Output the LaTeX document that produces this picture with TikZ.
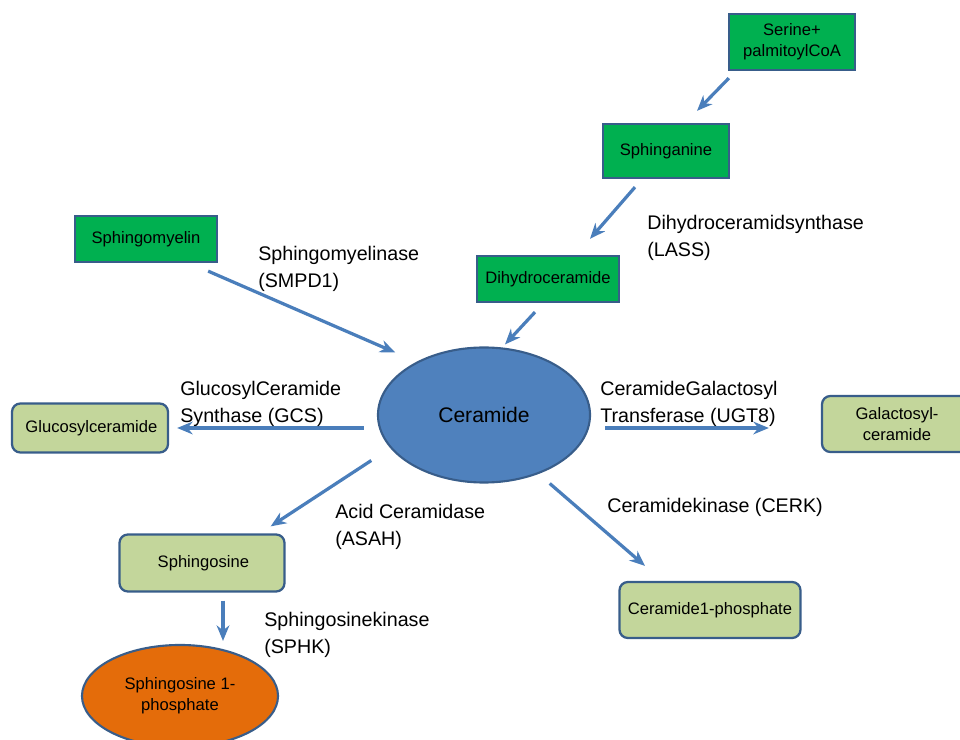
\documentclass[tikz,border=0pt]{standalone}
\usepackage{fontspec}
\setmainfont{Liberation Sans}
\usetikzlibrary{arrows.meta,calc,shapes.geometric}
\definecolor{lipidgreen}{RGB}{0,176,80}
\definecolor{palegreen}{RGB}{195,214,155}
\definecolor{cerblue}{RGB}{79,129,189}
\definecolor{edgeblue}{RGB}{56,93,138}
\definecolor{arrowblue}{RGB}{74,126,187}
\definecolor{sporange}{RGB}{228,108,10}

\begin{document}
\begin{tikzpicture}[x=0.025cm,y=-0.025cm,
  darkbox/.style={draw=edgeblue,line width=1.6pt,fill=lipidgreen,align=center,inner sep=1pt,font=\fontsize{11.8}{15}\selectfont},
  palebox/.style={draw=edgeblue,line width=1.6pt,fill=palegreen,rounded corners=6pt,align=center,inner sep=1pt,font=\fontsize{11.8}{15}\selectfont},
  blob/.style={ellipse,draw=edgeblue,line width=1.5pt,inner sep=0pt,align=center},
  flow/.style={draw=arrowblue,line width=2.3pt,-{Stealth[length=11pt,width=9pt,inset=3.5pt]}},
  enzyme/.style={anchor=north west,inner sep=0pt,align=left,font=\fontsize{14}{19.2}\selectfont}]

\clip (0,0) rectangle (960,740);

\node[darkbox,minimum width=3.15cm,minimum height=1.4cm] (serine) at (792,42) {Serine+\\palmitoylCoA};
\node[darkbox,minimum width=3.15cm,minimum height=1.35cm] (sphinganine) at (666,151) {Sphinganine};
\node[darkbox,minimum width=3.55cm,minimum height=1.15cm] (dihydro) at (548,279) {Dihydroceramide};
\node[darkbox,minimum width=3.55cm,minimum height=1.15cm] (sphingomyelin) at (146,239) {Sphingomyelin};

\node[blob,fill=cerblue,minimum width=5.3cm,minimum height=3.375cm,font=\fontsize{15}{18}\selectfont] (ceramide) at (484,415) {Ceramide};

\node[palebox,minimum width=3.9cm,minimum height=1.225cm] (glucosyl) at (90,428) {\,Glucosylceramide};
\node[palebox,minimum width=3.75cm,minimum height=1.4cm] (galactosyl) at (897,424) {Galactosyl-\\ceramide};
\node[palebox,minimum width=4.125cm,minimum height=1.425cm] (sphingosine) at (202,563) {\,Sphingosine};
\node[palebox,minimum width=4.525cm,minimum height=1.4cm] (cerphos) at (710,610) {Ceramide1-phosphate};

\node[blob,fill=sporange,minimum width=4.9cm,minimum height=2.55cm,font=\fontsize{11.8}{15}\selectfont] (sphingosinep) at (180,696) {Sphingosine 1-\\phosphate};

\draw[flow] ($(serine.south west)+(1,7)$) -- ($(sphinganine.north)+(31,-12)$);
\draw[flow] ($(sphinganine.south)+(-31,8)$) -- ($(dihydro.north)+(42,-16)$);
\draw[flow] ($(dihydro.south)+(-13,9)$) -- ($(ceramide.north)+(21,-2)$);
\draw[flow] ($(sphingomyelin.south east)+(-10,8)$) -- ($(ceramide.north west)+(-13,-14)$);
\draw[flow] ($(ceramide.west)+(-13,13)$) -- ($(glucosyl.east)+(8,0)$);
\draw[flow] ($(ceramide.east)+(14,13)$) -- ($(galactosyl.west)+(-52,4)$);
\draw[flow] ($(ceramide.south west)+(-37,-3)$) -- ($(sphingosine.north east)+(-15,-7)$);
\draw[flow] ($(ceramide.south east)+(-10,20)$) -- ($(cerphos.north)+(-65,-15)$);
\draw[flow] ($(sphingosine.south)+(21,8)$) -- ($(sphingosinep.north)+(43,-3)$);

\node[enzyme] (smpd) at (258,245.6) {Sphingomyelinase\\(SMPD1)};
\node[enzyme] (lass) at (647,214.6) {Dihydroceramidsynthase\\(LASS)};
\node[enzyme] (gcs) at (180,380.6) {GlucosylCeramide\\Synthase (GCS)};
\node[enzyme] (ugt) at (600,380.6) {CeramideGalactosyl\\Transferase (UGT8)};
\node[enzyme] (asah) at (335,503.6) {Acid Ceramidase\\(ASAH)};
\node[enzyme] (cerk) at (607,497.6) {Ceramidekinase (CERK)};
\node[enzyme] (sphk) at (264,611.6) {Sphingosinekinase\\(SPHK)};

\end{tikzpicture}
\end{document}
